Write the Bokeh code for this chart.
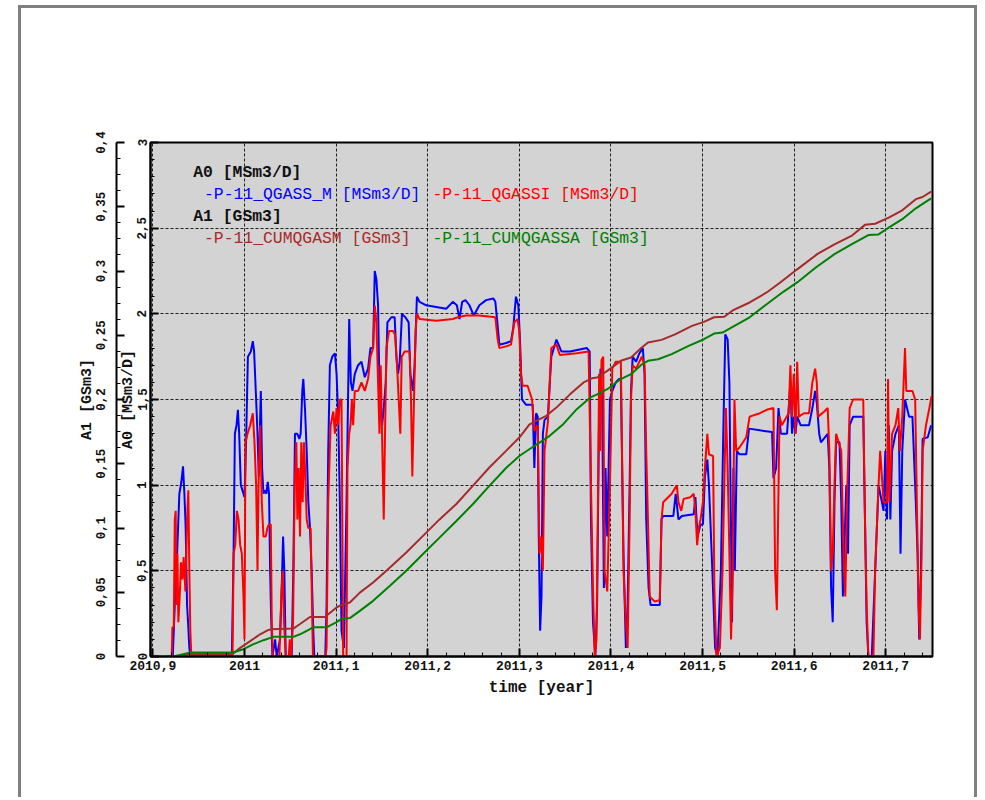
from bokeh.plotting import figure
from bokeh.models import Range1d, LinearAxis, FixedTicker, Label
from bokeh.embed import file_html
from bokeh.resources import INLINE

# ---------------- data (decimal year, value) ----------------
qgass_m_t = [2010.9155, 2010.9217, 2010.9239, 2010.9264, 2010.9289, 2010.9311, 2010.9329, 2010.9344, 2010.9358, 2010.9373,
             2010.9384, 2010.9398, 2010.9409, 2010.9862, 2010.9881, 2010.9895, 2010.9913, 2010.9928, 2010.9942, 2010.9960,
             2010.9989, 2011.0000, 2011.0018, 2011.0037, 2011.0069, 2011.0091, 2011.0105, 2011.0127, 2011.0142, 2011.0156,
             2011.0167, 2011.0178, 2011.0192, 2011.0207, 2011.0221, 2011.0239, 2011.0254, 2011.0268, 2011.0280, 2011.0290,
             2011.0305, 2011.0334, 2011.0352, 2011.0388, 2011.0406, 2011.0421, 2011.0435, 2011.0450, 2011.0515, 2011.0533,
             2011.0551, 2011.0577, 2011.0599, 2011.0613, 2011.0631, 2011.0642, 2011.0660, 2011.0679, 2011.0697, 2011.0715,
             2011.0733, 2011.0751, 2011.0762, 2011.0882, 2011.0896, 2011.0914, 2011.0932, 2011.0958, 2011.0987, 2011.1005,
             2011.1023, 2011.1041, 2011.1059, 2011.1085, 2011.1114, 2011.1143, 2011.1161, 2011.1179, 2011.1204, 2011.1240,
             2011.1277, 2011.1313, 2011.1349, 2011.1375, 2011.1404, 2011.1422, 2011.1440, 2011.1458, 2011.1469, 2011.1484,
             2011.1502, 2011.1520, 2011.1542, 2011.1560, 2011.1603, 2011.1639, 2011.1658, 2011.1676, 2011.1694, 2011.1719,
             2011.1756, 2011.1792, 2011.1810, 2011.1839, 2011.1857, 2011.1882, 2011.1911, 2011.1984, 2011.2093, 2011.2202,
             2011.2274, 2011.2318, 2011.2347, 2011.2376, 2011.2412, 2011.2455, 2011.2503, 2011.2564, 2011.2637, 2011.2717,
             2011.2738, 2011.2760, 2011.2782, 2011.2855, 2011.2909, 2011.2934, 2011.2963, 2011.2989, 2011.3007, 2011.3029,
             2011.3072, 2011.3146, 2011.3164, 2011.3183, 2011.3201, 2011.3212, 2011.3227, 2011.3242, 2011.3257, 2011.3275,
             2011.3312, 2011.3349, 2011.3405, 2011.3460, 2011.3553, 2011.3738, 2011.3768, 2011.3782, 2011.3804, 2011.3830,
             2011.3849, 2011.3868, 2011.3886, 2011.3904, 2011.3923, 2011.3941, 2011.3960, 2011.3989, 2011.4015, 2011.4052,
             2011.4089, 2011.4108, 2011.4137, 2011.4163, 2011.4182, 2011.4204, 2011.4219, 2011.4237, 2011.4274, 2011.4311,
             2011.4348, 2011.4367, 2011.4385, 2011.4411, 2011.4433, 2011.4533, 2011.4552, 2011.4570, 2011.4681, 2011.4707,
             2011.4737, 2011.4774, 2011.4904, 2011.4922, 2011.4944, 2011.4978, 2011.5004, 2011.5026, 2011.5052, 2011.5070,
             2011.5107, 2011.5137, 2011.5163, 2011.5200, 2011.5226, 2011.5248, 2011.5274, 2011.5293, 2011.5307, 2011.5322,
             2011.5337, 2011.5352, 2011.5374, 2011.5403, 2011.5477, 2011.5507, 2011.5626, 2011.5759, 2011.5774, 2011.5803,
             2011.5829, 2011.5855, 2011.5922, 2011.5959, 2011.5977, 2011.5996, 2011.6014, 2011.6033, 2011.6070, 2011.6162,
             2011.6199, 2011.6229, 2011.6247, 2011.6273, 2011.6292, 2011.6366, 2011.6384, 2011.6403, 2011.6421, 2011.6440,
             2011.6458, 2011.6495, 2011.6514, 2011.6532, 2011.6569, 2011.6588, 2011.6606, 2011.6643, 2011.6754, 2011.6773,
             2011.6791, 2011.6810, 2011.6847, 2011.6884, 2011.6921, 2011.6958, 2011.6976, 2011.6995, 2011.7013, 2011.7032,
             2011.7050, 2011.7069, 2011.7106, 2011.7143, 2011.7161, 2011.7180, 2011.7210, 2011.7254, 2011.7291, 2011.7328,
             2011.7347, 2011.7365, 2011.7384, 2011.7402, 2011.7458, 2011.7495]
qgass_m_v = [0, 0, 0.3, 0.6, 0.95, 1.02, 1.11, 0.95, 0.75, 0.3,
             0.2, 0.05, 0, 0, 0.6, 1.3, 1.35, 1.44, 1.3, 1.0,
             0.95, 0.93, 1.27, 1.75, 1.78, 1.84, 1.78, 1.5, 1.3, 1.05,
             1.3, 1.55, 1.1, 0.95, 0.97, 0.95, 1.02, 0.95, 0.5, 0.25,
             0, 0.1, 0, 0.1, 0.4, 0.7, 0.5, 0, 0, 0.5,
             1.3, 1.3, 1.27, 1.3, 1.55, 1.62, 1.45, 1.2, 0.9, 0.75,
             0.5, 0.15, 0, 0, 0.3, 1.2, 1.7, 1.75, 1.77, 1.65,
             1.4, 0.9, 0.15, 0.05, 0.9, 1.97, 1.6, 1.55, 1.65, 1.7,
             1.72, 1.63, 1.68, 1.8, 1.8, 2.25, 2.2, 2.05, 1.7, 1.5,
             1.35, 1.45, 1.6, 1.95, 1.98, 1.98, 1.75, 1.65, 1.72, 2.0,
             1.98, 1.95, 1.65, 1.55, 1.7, 2.1, 2.07, 2.05, 2.04, 2.03,
             2.07, 2.05, 1.97, 2.07, 2.08, 2.05, 1.99, 2.05, 2.08, 2.09,
             2.07, 1.95, 1.82, 1.83, 1.84, 1.92, 2.1, 2.05, 1.85, 1.5,
             1.47, 1.47, 1.1, 1.42, 1.4, 0.7, 0.15, 0.35, 1.3, 1.38,
             1.4, 1.75, 1.85, 1.78, 1.78, 1.8, 1.78, 0.8, 0.2, 0,
             0.3, 1.3, 1.68, 1.5, 0.4, 1.1, 0.7, 1.5, 1.55, 1.6,
             1.62, 1.62, 0.6, 0.05, 0.3, 1.0, 1.55, 1.75, 1.72, 1.77,
             1.8, 1.65, 0.8, 0.4, 0.3, 0.3, 0.8, 0.82, 0.82, 0.95,
             0.8, 0.82, 0.83, 0.93, 0.7, 0.77, 0.77, 1.05, 1.15, 1.0,
             0.5, 0.05, 0, 0.5, 1.3, 1.88, 1.85, 1.6, 0.9, 0.2,
             1.1, 0.5, 1.2, 1.18, 1.18, 1.33, 1.32, 1.31, 1.04, 1.1,
             1.45, 1.3, 1.3, 1.6, 1.3, 1.4, 1.3, 1.4, 1.35, 1.35,
             1.45, 1.55, 1.48, 1.3, 1.25, 1.3, 1.1, 0.4, 0.2, 0.9,
             1.25, 1.25, 0.9, 0.35, 1.0, 0.6, 1.35, 1.4, 1.4, 0.8,
             0.2, 0, 0, 0.5, 1.0, 0.9, 0.85, 1.2, 0.8, 1.35,
             0.8, 1.2, 1.3, 1.35, 0.6, 1.2, 1.5, 1.4, 1.4, 0.9,
             0.6, 0.1, 0.5, 1.27, 1.28, 1.35]

qgassi_t = [2010.9155, 2010.9206, 2010.9213, 2010.9228, 2010.9239, 2010.9249, 2010.9257, 2010.9268, 2010.9278, 2010.9293,
            2010.9307, 2010.9322, 2010.9336, 2010.9355, 2010.9373, 2010.9387, 2010.9398, 2010.9409, 2010.9420, 2010.9870,
            2010.9881, 2010.9899, 2010.9917, 2010.9935, 2010.9953, 2010.9971, 2010.9989, 2011.0000, 2011.0011, 2011.0033,
            2011.0062, 2011.0091, 2011.0109, 2011.0127, 2011.0142, 2011.0153, 2011.0171, 2011.0189, 2011.0207, 2011.0232,
            2011.0250, 2011.0265, 2011.0287, 2011.0298, 2011.0309, 2011.0381, 2011.0392, 2011.0406, 2011.0417, 2011.0432,
            2011.0450, 2011.0483, 2011.0494, 2011.0508, 2011.0530, 2011.0548, 2011.0566, 2011.0577, 2011.0591, 2011.0606,
            2011.0620, 2011.0635, 2011.0649, 2011.0664, 2011.0679, 2011.0697, 2011.0722, 2011.0737, 2011.0747, 2011.0885,
            2011.0896, 2011.0914, 2011.0940, 2011.0969, 2011.0987, 2011.1005, 2011.1023, 2011.1041, 2011.1059, 2011.1070,
            2011.1077, 2011.1114, 2011.1124, 2011.1143, 2011.1157, 2011.1172, 2011.1186, 2011.1204, 2011.1240, 2011.1277,
            2011.1313, 2011.1349, 2011.1375, 2011.1404, 2011.1422, 2011.1440, 2011.1458, 2011.1473, 2011.1487, 2011.1505,
            2011.1520, 2011.1534, 2011.1549, 2011.1578, 2011.1621, 2011.1643, 2011.1665, 2011.1683, 2011.1701, 2011.1716,
            2011.1748, 2011.1803, 2011.1817, 2011.1832, 2011.1846, 2011.1868, 2011.1882, 2011.1911, 2011.2093, 2011.2274,
            2011.2329, 2011.2419, 2011.2564, 2011.2738, 2011.2764, 2011.2782, 2011.2855, 2011.2909, 2011.2945, 2011.2981,
            2011.2999, 2011.3018, 2011.3036, 2011.3090, 2011.3139, 2011.3164, 2011.3201, 2011.3220, 2011.3238, 2011.3257,
            2011.3275, 2011.3312, 2011.3349, 2011.3405, 2011.3442, 2011.3627, 2011.3756, 2011.3782, 2011.3804, 2011.3823,
            2011.3842, 2011.3860, 2011.3871, 2011.3882, 2011.3897, 2011.3916, 2011.3930, 2011.3960, 2011.3989, 2011.4015,
            2011.4052, 2011.4108, 2011.4137, 2011.4163, 2011.4182, 2011.4204, 2011.4219, 2011.4237, 2011.4274, 2011.4337,
            2011.4367, 2011.4385, 2011.4404, 2011.4423, 2011.4478, 2011.4533, 2011.4552, 2011.4570, 2011.4663, 2011.4719,
            2011.4737, 2011.4767, 2011.4793, 2011.4867, 2011.4904, 2011.4922, 2011.4941, 2011.4959, 2011.4978, 2011.5004,
            2011.5026, 2011.5052, 2011.5070, 2011.5115, 2011.5129, 2011.5152, 2011.5189, 2011.5218, 2011.5237, 2011.5255,
            2011.5274, 2011.5293, 2011.5311, 2011.5329, 2011.5348, 2011.5367, 2011.5403, 2011.5477, 2011.5514, 2011.5626,
            2011.5700, 2011.5774, 2011.5792, 2011.5811, 2011.5840, 2011.5866, 2011.5940, 2011.5959, 2011.5977, 2011.5996,
            2011.6014, 2011.6033, 2011.6051, 2011.6107, 2011.6162, 2011.6199, 2011.6229, 2011.6247, 2011.6262, 2011.6329,
            2011.6366, 2011.6384, 2011.6403, 2011.6421, 2011.6440, 2011.6458, 2011.6514, 2011.6544, 2011.6558, 2011.6581,
            2011.6606, 2011.6643, 2011.6754, 2011.6773, 2011.6791, 2011.6810, 2011.6865, 2011.6884, 2011.6921, 2011.6939,
            2011.6976, 2011.7013, 2011.7025, 2011.7039, 2011.7069, 2011.7106, 2011.7136, 2011.7154, 2011.7180, 2011.7210,
            2011.7224, 2011.7291, 2011.7321, 2011.7336, 2011.7358, 2011.7373, 2011.7391, 2011.7402, 2011.7439, 2011.7476,
            2011.7500]
qgassi_v = [0, 0, 0.17, 0.17, 0.8, 0.85, 0.3, 0.6, 0.2, 0.35,
            0.55, 0.45, 0.58, 0.38, 0.8, 0.97, 0.5, 0.15, 0, 0,
            0.6, 0.65, 0.85, 0.8, 0.65, 0.6, 0.35, 0.1, 1.25, 1.3,
            1.35, 1.42, 1.25, 1.0, 0.5, 1.0, 1.35, 0.9, 0.7, 0.7,
            0.75, 0.77, 0.77, 0.2, 0, 0, 0.2, 0.4, 0.5, 0.2,
            0, 0, 0.1, 0, 0.2, 1.0, 1.25, 0.8, 1.1, 0.7,
            1.25, 0.9, 1.25, 1.05, 0.8, 0.75, 0.75, 0.3, 0, 0,
            0.05, 0.9, 1.35, 1.43, 1.3, 1.45, 1.35, 1.5, 1.5, 0.6,
            0, 0, 1.1, 1.3, 1.35, 1.5, 1.35, 1.55, 1.55, 1.6,
            1.55, 1.62, 1.75, 1.8, 2.05, 1.95, 1.6, 1.3, 1.7, 1.2,
            0.8, 1.3, 1.8, 1.9, 1.9, 1.88, 1.7, 1.5, 1.3, 1.75,
            1.78, 1.78, 1.5, 1.05, 1.4, 1.9, 2.0, 1.97, 1.96, 1.97,
            1.98, 1.99, 1.99, 1.98, 1.85, 1.8, 1.81, 1.82, 1.95, 1.97,
            1.9, 1.65, 1.58, 1.58, 1.5, 1.32, 1.35, 0.6, 0.7, 0.5,
            1.2, 1.37, 1.8, 1.82, 1.76, 1.77, 1.78, 1.0, 0.4, 0,
            0.1, 1.0, 1.65, 1.2, 1.73, 1.75, 0.5, 0.38, 1.0, 1.68,
            1.72, 1.72, 0.5, 0.2, 0.05, 0.8, 1.5, 1.7, 1.68, 1.75,
            1.7, 1.2, 0.8, 0.35, 0.32, 0.33, 0.8, 0.9, 0.95, 1.0,
            0.9, 0.85, 0.92, 0.93, 0.95, 0.85, 0.65, 0.75, 0.8, 0.9,
            1.1, 1.3, 1.18, 1.17, 0.4, 0, 0.05, 0.5, 1.0, 1.45,
            1.1, 0.6, 0.1, 0.5, 1.5, 1.2, 1.22, 1.28, 1.4, 1.42,
            1.44, 1.45, 0.5, 0.27, 1.4, 1.35, 1.42, 1.7, 1.4, 1.65,
            1.3, 1.72, 1.4, 1.42, 1.42, 1.6, 1.68, 1.6, 1.4, 1.43,
            1.45, 1.2, 0.5, 0.6, 1.0, 1.3, 1.2, 0.5, 0.35, 1.0,
            1.45, 1.5, 1.5, 0.8, 0.3, 0, 0, 0.5, 1.0, 1.2,
            0.9, 0.9, 1.62, 0.9, 1.3, 1.35, 1.45, 1.2, 1.4, 1.8,
            1.55, 1.55, 1.5, 1.0, 0.3, 0.1, 0.6, 1.2, 1.35, 1.45,
            1.52]

cumqgasm_t = [2010.9155, 2010.9228, 2010.9409, 2010.9870, 2010.9953, 2011.0062, 2011.0171, 2011.0261, 2011.0298, 2011.0533,
              2011.0606, 2011.0715, 2011.0878, 2011.1005, 2011.1041, 2011.1150, 2011.1259, 2011.1404, 2011.1549, 2011.1766,
              2011.1984, 2011.2129, 2011.2310, 2011.2492, 2011.2673, 2011.2855, 2011.3000, 2011.3109, 2011.3183, 2011.3294,
              2011.3405, 2011.3553, 2011.3701, 2011.3793, 2011.3849, 2011.3960, 2011.4108, 2011.4219, 2011.4330, 2011.4404,
              2011.4552, 2011.4700, 2011.4885, 2011.5015, 2011.5126, 2011.5237, 2011.5329, 2011.5514, 2011.5700, 2011.5848,
              2011.6033, 2011.6255, 2011.6440, 2011.6625, 2011.6773, 2011.6884, 2011.7032, 2011.7180, 2011.7328, 2011.7402,
              2011.7495]
cumqgasm_v = [0, 0, 0.002, 0.002, 0.0067, 0.012, 0.0173, 0.0207, 0.0213, 0.0217,
              0.0253, 0.0307, 0.0307, 0.0381, 0.0395, 0.042, 0.0497, 0.0576, 0.0667, 0.0809,
              0.0964, 0.1067, 0.1185, 0.1328, 0.1471, 0.16, 0.1704, 0.1805, 0.1833, 0.1873,
              0.1937, 0.204, 0.2133, 0.2165, 0.2171, 0.2223, 0.2301, 0.2327, 0.24, 0.2444,
              0.2464, 0.2507, 0.2573, 0.2604, 0.264, 0.2644, 0.2693, 0.2755, 0.2833, 0.2911,
              0.3013, 0.3133, 0.3208, 0.3273, 0.3359, 0.3368, 0.3415, 0.3472, 0.3559, 0.3576,
              0.3617]

cumqgassa_t = [2010.9155, 2010.9228, 2010.9409, 2010.9870, 2010.9989, 2011.0098, 2011.0207, 2011.0316, 2011.0533, 2011.0606,
               2011.0751, 2011.0896, 2011.1005, 2011.1059, 2011.1150, 2011.1259, 2011.1404, 2011.1585, 2011.1766, 2011.1984,
               2011.2129, 2011.2310, 2011.2492, 2011.2673, 2011.2855, 2011.3000, 2011.3109, 2011.3220, 2011.3331, 2011.3479,
               2011.3627, 2011.3775, 2011.3849, 2011.3960, 2011.4108, 2011.4219, 2011.4330, 2011.4404, 2011.4515, 2011.4663,
               2011.4848, 2011.5015, 2011.5126, 2011.5218, 2011.5329, 2011.5514, 2011.5700, 2011.5885, 2011.6033, 2011.6236,
               2011.6440, 2011.6625, 2011.6810, 2011.6921, 2011.7032, 2011.7180, 2011.7328, 2011.7495]
cumqgassa_v = [0, 0, 0.0031, 0.0031, 0.0057, 0.0096, 0.0127, 0.0153, 0.0153, 0.0173,
               0.0227, 0.0227, 0.0267, 0.0293, 0.0299, 0.0355, 0.0433, 0.0549, 0.0667, 0.0823,
               0.0925, 0.1053, 0.1185, 0.1328, 0.1467, 0.156, 0.1613, 0.1665, 0.1717, 0.1808,
               0.1925, 0.2016, 0.204, 0.208, 0.2159, 0.2197, 0.2269, 0.2301, 0.2313, 0.2353,
               0.2417, 0.2469, 0.2513, 0.2521, 0.2565, 0.264, 0.2741, 0.284, 0.2911, 0.3027,
               0.3131, 0.3208, 0.328, 0.3285, 0.3337, 0.3403, 0.3488, 0.3565]

x_ticks = [2010.9, 2011.0, 2011.1, 2011.2, 2011.3, 2011.4, 2011.5, 2011.6, 2011.7]
x_labels = ["2010,9", "2011", "2011,1", "2011,2", "2011,3", "2011,4", "2011,5", "2011,6", "2011,7"]
a0_ticks = [0, 0.5, 1, 1.5, 2, 2.5, 3]
a0_labels = ["0", "0,5", "1", "1,5", "2", "2,5", "3"]
a1_ticks = [0, 0.05, 0.1, 0.15, 0.2, 0.25, 0.3, 0.35, 0.4]
a1_labels = ["0", "0,05", "0,1", "0,15", "0,2", "0,25", "0,3", "0,35", "0,4"]

FONT = "Liberation Mono"
BLUE, RED, BROWN, GREEN = "#0000ff", "#ff0000", "#a52a2a", "#008000"

p = figure(width=959, height=792, output_backend="svg", toolbar_location=None,
           x_range=Range1d(2010.8974, 2011.7510), y_range=Range1d(0, 3),
           min_border_left=129, min_border_right=48, min_border_top=134, min_border_bottom=144,
           background_fill_color="#d3d3d3", border_fill_color="white",
           outline_line_color="black", outline_line_width=2)
p.margin = (5, 0, 0, 18)
p.styles = {"border-top": "3px solid #808080", "border-left": "3px solid #808080",
            "border-right": "3px solid #808080"}
p.extra_y_ranges = {"a1": Range1d(0, 0.4)}

# x axis
xax = p.xaxis[0]
xax.ticker = FixedTicker(ticks=x_ticks, minor_ticks=[round(2010.9 + 0.02 * i, 2) for i in range(43)])
xax.major_label_overrides = dict(zip(x_ticks, x_labels))
xax.axis_label = "time [year]"

# A0 axis
a0 = p.yaxis[0]
a0.ticker = FixedTicker(ticks=a0_ticks, minor_ticks=[round(0.1 * i, 1) for i in range(31)])
a0.major_label_overrides = dict(zip(a0_ticks, a0_labels))
a0.axis_label = "A0 [MSm3/D]"
a0.major_label_orientation = "parallel"

# A1 axis
a1 = LinearAxis(y_range_name="a1")
a1.ticker = FixedTicker(ticks=a1_ticks, minor_ticks=[round(0.0125 * i, 4) for i in range(33)])
a1.major_label_overrides = dict(zip(a1_ticks, a1_labels))
a1.axis_label = "A1 [GSm3]"
a1.major_label_orientation = "parallel"
p.add_layout(a1, "left")

for ax in [xax, a0, a1]:
    ax.axis_line_color = "black"
    ax.axis_line_width = 2
    ax.major_tick_in = 8
    ax.major_tick_out = 0
    ax.minor_tick_in = 4
    ax.minor_tick_out = 0
    ax.major_tick_line_width = 2
    ax.major_tick_line_color = "black"
    ax.minor_tick_line_color = "black"
    ax.major_label_text_font = FONT
    ax.major_label_text_font_style = "bold"
    ax.major_label_text_color = "#111111"
    ax.axis_label_text_font = FONT
    ax.axis_label_text_font_style = "bold"
    ax.axis_label_text_color = "#111111"
    ax.axis_label_text_font_size = "15px"

xax.major_label_text_font_size = "13px"
xax.major_label_standoff = 4
xax.axis_label_standoff = 6
xax.axis_label_text_font_size = "16px"
a0.major_label_text_font_size = "12.5px"
a0.major_label_standoff = 4
a0.axis_label_standoff = -2
a1.major_label_text_font_size = "12.5px"
a1.major_label_standoff = 12
a1.axis_label_standoff = -3

# grids
p.xgrid.ticker = FixedTicker(ticks=x_ticks)
p.ygrid.ticker = FixedTicker(ticks=a0_ticks)
for g in [p.xgrid, p.ygrid]:
    g.grid_line_color = "black"
    g.grid_line_dash = "3 2"
    g.grid_line_width = 1
    g.grid_line_alpha = 0.85

# series
p.line(qgass_m_t, qgass_m_v, color=BLUE, line_width=2)
p.line(qgassi_t, qgassi_v, color=RED, line_width=2)
p.line(cumqgasm_t, cumqgasm_v, color=BROWN, line_width=2, y_range_name="a1")
p.line(cumqgassa_t, cumqgassa_v, color=GREEN, line_width=2, y_range_name="a1")

# title
p.add_layout(Label(x=342, y=534, x_units="screen", y_units="screen",
                   text="P-11. Measured and calc Gas", text_align="center", text_baseline="middle",
                   text_font=FONT, text_font_style="bold", text_font_size="19px", text_color="#111111"))

# legend (text block inside the plot)
legend_items = [
    (42.7, 484, "A0 [MSm3/D]", "#111111", "bold"),
    (53.5, 462.4, "-P-11_QGASS_M [MSm3/D]", BLUE, "normal"),
    (281.9, 462.4, "-P-11_QGASSI [MSm3/D]", RED, "normal"),
    (42.7, 440, "A1 [GSm3]", "#111111", "bold"),
    (53.5, 418.4, "-P-11_CUMQGASM [GSm3]", BROWN, "normal"),
    (281.9, 418.4, "-P-11_CUMQGASSA [GSm3]", GREEN, "normal"),
]
for lx, ly, txt, col, style in legend_items:
    p.add_layout(Label(x=lx, y=ly, x_units="screen", y_units="screen", text=txt,
                       text_align="left", text_baseline="middle", text_font=FONT,
                       text_font_style=style, text_font_size="16.4px", text_color=col))

open("out.html", "w").write(file_html(p, INLINE))
